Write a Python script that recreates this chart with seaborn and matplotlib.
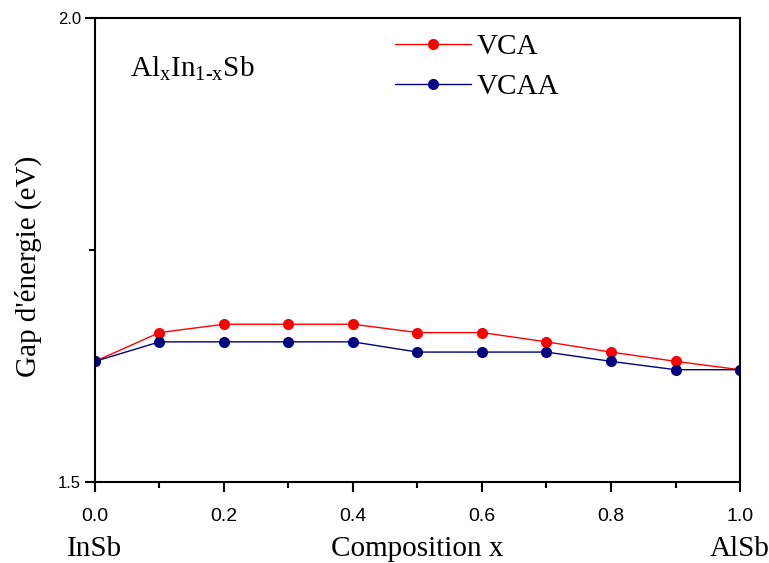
import matplotlib
matplotlib.use("Agg")
import matplotlib.pyplot as plt
import seaborn as sns
import pandas as pd
from matplotlib.ticker import MultipleLocator, FormatStrFormatter

x = [0.0, 0.1, 0.2, 0.3, 0.4, 0.5, 0.6, 0.7, 0.8, 0.9, 1.0]
vca = [1.630, 1.661, 1.670, 1.670, 1.670, 1.661, 1.661, 1.651, 1.640, 1.630, 1.621]
vcaa = [1.630, 1.651, 1.651, 1.651, 1.651, 1.640, 1.640, 1.640, 1.630, 1.621, 1.621]

df = pd.concat([
    pd.DataFrame({"x": x, "gap": vca, "method": "VCA"}),
    pd.DataFrame({"x": x, "gap": vcaa, "method": "VCAA"}),
])

sns.set_theme(style="ticks")
plt.rcParams["font.family"] = ["Liberation Serif", "DejaVu Serif"]
plt.rcParams["mathtext.fontset"] = "custom"
plt.rcParams["mathtext.rm"] = "Liberation Serif"
for k in ["text.color", "axes.labelcolor", "xtick.color", "ytick.color", "axes.edgecolor"]:
    plt.rcParams[k] = "black"

fig = plt.figure(figsize=(7.69, 5.63), dpi=100)
ax = fig.add_axes([0.1235, 0.1439, 0.8388, 0.8241])

sns.lineplot(data=df, x="x", y="gap", hue="method", palette={"VCA": "red", "VCAA": "#000080"},
             marker="o", markersize=8, markeredgewidth=0, linewidth=1, ax=ax)

ax.set_xlim(0, 1.0)
ax.set_ylim(1.5, 2.0)
ax.xaxis.set_major_locator(MultipleLocator(0.2))
ax.xaxis.set_minor_locator(MultipleLocator(0.1))
ax.yaxis.set_major_locator(MultipleLocator(0.5))
ax.yaxis.set_minor_locator(MultipleLocator(0.25))
ax.xaxis.set_major_formatter(FormatStrFormatter("%.1f"))
ax.yaxis.set_major_formatter(FormatStrFormatter("%.1f"))
for s in ax.spines.values():
    s.set_linewidth(1.5)
    s.set_color("black")
ax.tick_params(which="major", direction="out", length=7, width=1.5)
ax.tick_params(which="minor", direction="out", length=4, width=1.5)
for lab in ax.get_xticklabels():
    lab.set_family(["Liberation Sans"])
    lab.set_fontsize(14)
for lab in ax.get_yticklabels():
    lab.set_family(["Liberation Sans"])
    lab.set_fontsize(12)
ax.tick_params(axis="x", pad=12)
ax.tick_params(axis="y", pad=3)

ax.set_xlabel("Composition x", fontsize=21, labelpad=8)
ax.set_ylabel("Gap d'énergie (eV)", fontsize=21)
ax.yaxis.set_label_coords(-0.082, 0.465)

ax.text(0.055, 0.875, r"Al$_{\mathrm{x}}$In$_{\text{1-x}}$Sb", transform=ax.transAxes, fontsize=21)
ax.text(0.0, -0.145, "InSb", transform=ax.transAxes, fontsize=21, ha="center", va="center")
ax.text(1.0, -0.145, "AlSb", transform=ax.transAxes, fontsize=21, ha="center", va="center")

leg = ax.legend(title=None, frameon=False, fontsize=21, loc="upper left",
                bbox_to_anchor=(0.425, 1.022), handlelength=2.6, handletextpad=0.2, labelspacing=0.45)

fig.savefig("out.png", dpi=100)
